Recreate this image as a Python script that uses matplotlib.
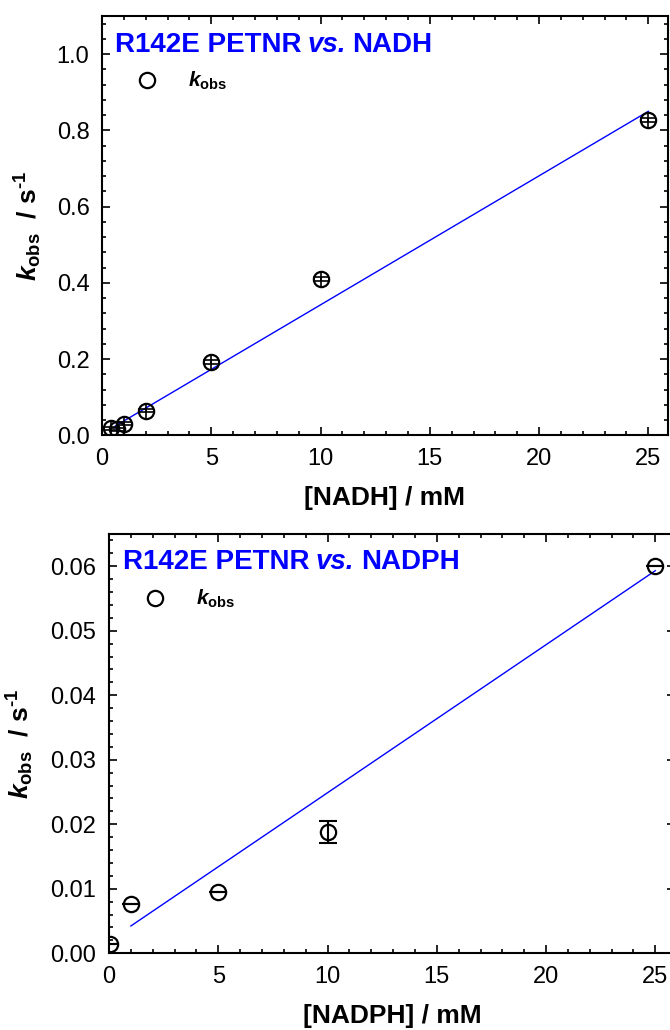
import matplotlib
matplotlib.use("Agg")
import matplotlib.pyplot as plt
from matplotlib.lines import Line2D
from matplotlib.ticker import MultipleLocator

# ---- data -------------------------------------------------------------
nadh_conc = [0.4, 0.7, 1.0, 2.0, 5.0, 10.0, 25.0]          # mM
nadh_kobs = [0.018, 0.016, 0.030, 0.065, 0.193, 0.409, 0.828]  # s^-1
nadh_err = [0.004, 0.004, 0.004, 0.004, 0.005, 0.005, 0.005]
nadh_fit_slope = 0.03385
nadh_fit_intercept = 0.0037
nadh_fit_range = [0.6, 25.0]

nadph_conc = [0.05, 1.0, 5.0, 10.0, 25.0]                   # mM
nadph_kobs = [0.0014, 0.0076, 0.0095, 0.0188, 0.0600]       # s^-1
nadph_err = [0.0, 0.0, 0.0, 0.0017, 0.0]
nadph_fit_slope = 0.002295
nadph_fit_intercept = 0.00194
nadph_fit_range = [1.0, 25.0]

enzyme = "R142E PETNR"
substrates = ["NADH", "NADPH"]
xlabels = ["[NADH] / mM", "[NADPH] / mM"]

# ---- style ------------------------------------------------------------
plt.rcParams["font.family"] = ["Liberation Sans", "DejaVu Sans"]
plt.rcParams["mathtext.fontset"] = "custom"
plt.rcParams["mathtext.rm"] = "Liberation Sans:bold"
plt.rcParams["mathtext.it"] = "Liberation Sans:bold:italic"
plt.rcParams["mathtext.bf"] = "Liberation Sans:bold"

W, H = 670, 1030
fig = plt.figure(figsize=(W / 100, H / 100), dpi=100)
fig.patch.set_facecolor("white")


def px_axes(left, top, right, bottom):
    return fig.add_axes([left / W, 1 - bottom / H, (right - left) / W, (bottom - top) / H])


ax1 = px_axes(102, 16, 668, 435.3)
ax2 = px_axes(109, 534, 675, 953.3)

ylabel = r"$k_{\mathrm{obs}}$  / s$^{\text{-1}}$"
legend_label = r"$k_{\mathrm{obs}}$"

marker_kw = dict(marker="o", ms=11, mfc="none", mec="black", mew=1.6, ls="none")


def style_axes(ax, ylim, ymajor, yminor, yfmt):
    ax.set_xlim(0, 25.9)
    ax.set_ylim(*ylim)
    ax.xaxis.set_major_locator(MultipleLocator(5))
    ax.xaxis.set_minor_locator(MultipleLocator(1))
    ax.yaxis.set_major_locator(MultipleLocator(ymajor))
    ax.yaxis.set_minor_locator(MultipleLocator(yminor))
    ax.yaxis.set_major_formatter(yfmt)
    ax.tick_params(which="both", direction="in", top=True, right=True,
                   width=1.2, colors="black")
    ax.tick_params(which="major", length=5.5, labelsize=17, pad=9)
    ax.tick_params(which="minor", length=3)
    for s in ax.spines.values():
        s.set_linewidth(1.5)


def blue_title(ax, x, y, substrate):
    kw = dict(color="#0000ff", fontsize=20, fontweight="bold")
    t1 = ax.text(x, y, enzyme, transform=ax.transAxes, ha="left", va="center", **kw)
    t2 = ax.annotate("vs.", xy=(1, 0), xycoords=t1, xytext=(4.5, 0),
                     textcoords="offset points", ha="left", va="bottom",
                     fontstyle="italic", **kw)
    ax.annotate(substrate, xy=(1, 0), xycoords=t2, xytext=(4.5, 0),
                textcoords="offset points", ha="left", va="bottom", **kw)


# ---- top panel: NADH --------------------------------------------------
style_axes(ax1, (0, 1.1), 0.2, 0.04, "{x:.1f}")
ax1.plot(nadh_fit_range,
         [nadh_fit_slope * x + nadh_fit_intercept for x in nadh_fit_range],
         color="#0000ff", lw=1.0, zorder=2)
ax1.errorbar(nadh_conc, nadh_kobs, yerr=nadh_err, fmt="none", ecolor="black",
             elinewidth=1.2, capsize=5.5, capthick=1.2, zorder=3)
ax1.plot(nadh_conc, nadh_kobs, **marker_kw, zorder=4)
ax1.plot(nadh_conc, nadh_kobs, marker="|", ms=11, mec="black", mew=1.2, ls="none", zorder=4)

# ---- bottom panel: NADPH ----------------------------------------------
style_axes(ax2, (0, 0.065), 0.01, 0.002, "{x:.2f}")
ax2.plot(nadph_fit_range,
         [nadph_fit_slope * x + nadph_fit_intercept for x in nadph_fit_range],
         color="#0000ff", lw=1.0, zorder=2)
ax2.errorbar(nadph_conc, nadph_kobs, yerr=nadph_err, fmt="none", ecolor="black",
             elinewidth=1.5, capsize=6.5, capthick=1.5, zorder=3)
ax2.plot(nadph_conc, nadph_kobs, **marker_kw, zorder=4)

# ---- labels, titles, legends -------------------------------------------
for ax, sub, xl, tpos, ylx, lgx in [
    (ax1, substrates[0], xlabels[0], (0.023, 0.931), -0.102, 0.0424),
    (ax2, substrates[1], xlabels[1], (0.025, 0.933), -0.129, 0.0436),
]:
    blue_title(ax, tpos[0], tpos[1], sub)
    ax.set_xlabel(xl, fontsize=19, fontweight="bold")
    ax.xaxis.set_label_coords(0.5, -0.12)
    ax.set_ylabel(ylabel, fontsize=19, fontweight="bold")
    ax.yaxis.set_label_coords(ylx, 0.5)
    handle = Line2D([], [], **marker_kw)
    ax.legend([handle], [legend_label], loc="center left",
              bbox_to_anchor=(lgx, 0.845), frameon=False, fontsize=15,
              borderpad=0, borderaxespad=0, handlelength=2.0,
              handletextpad=1.0, numpoints=1)

fig.savefig("out.png", dpi=100, facecolor="white")
